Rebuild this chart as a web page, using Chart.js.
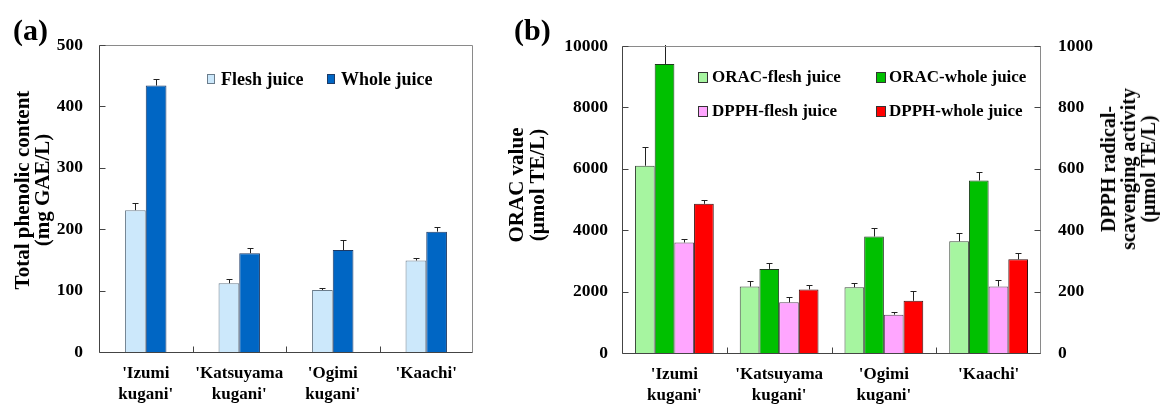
<!DOCTYPE html>
<html lang="en">
<head>
<meta charset="UTF-8">
<title>Phenolic content and antioxidant activity of kugani juices</title>
<script src="https://cdn.jsdelivr.net/npm/chart.js@4.4.0/dist/chart.umd.min.js"></script>
<style>
  body { margin: 0; background: #fff; }
  #wrap { position: relative; width: 1161px; height: 408px; overflow: hidden;
          font-family: 'Liberation Serif', 'Times New Roman', serif; font-weight: bold; color: #000; }
  .panel { position: absolute; top: 0; height: 408px; }
  .tag { position: absolute; font-size: 30px; line-height: 30px; }
  .ytitle { position: absolute; font-size: 21px; text-align: center; white-space: nowrap;
            transform: translate(-50%, -50%) rotate(-90deg); }
  .sq { position: absolute; box-sizing: border-box; border: 1px solid #333; }
  .lt { position: absolute; white-space: nowrap; line-height: 22px; }
</style>
</head>
<body>
<div id="wrap">
  <div class="panel" id="pa" style="left:0;width:490px"><canvas id="chartA"></canvas></div>
  <div class="panel" id="pb" style="left:490px;width:671px"><canvas id="chartB"></canvas></div>

  <div class="tag" style="left:13px;top:15px">(a)</div>
  <div class="tag" style="left:514px;top:15px">(b)</div>

  <div class="ytitle" style="left:32px;top:190px;line-height:20px">Total phenolic content<br>(mg GAE/L)</div>
  <div class="ytitle" style="left:527px;top:185px;line-height:21px">ORAC value<br>(µmol TE/L)</div>
  <div class="ytitle" style="left:1128px;top:169px;line-height:20px;font-size:20px">DPPH radical-<br>scavenging activity<br>(µmol TE/L)</div>

  <!-- legend (a) -->
  <div class="sq" style="left:207px;top:74px;width:8px;height:10px;background:#cce8fb;border-color:#6b7d8c"></div>
  <div class="lt" style="left:221px;top:68px;font-size:18px">Flesh juice</div>
  <div class="sq" style="left:327px;top:74px;width:8px;height:10px;background:#0066c4;border-color:#1d3a66"></div>
  <div class="lt" style="left:341px;top:68px;font-size:18px">Whole juice</div>

  <!-- legend (b) -->
  <div class="sq" style="left:698px;top:72px;width:10px;height:11px;background:#a6f5a0"></div>
  <div class="lt" style="left:712px;top:66px;font-size:17px">ORAC-flesh juice</div>
  <div class="sq" style="left:876px;top:72px;width:10px;height:11px;background:#00c000"></div>
  <div class="lt" style="left:889px;top:66px;font-size:17px">ORAC-whole juice</div>
  <div class="sq" style="left:698px;top:106px;width:10px;height:11px;background:#ffa6ff"></div>
  <div class="lt" style="left:712px;top:100px;font-size:17px">DPPH-flesh juice</div>
  <div class="sq" style="left:876px;top:106px;width:10px;height:11px;background:#ff0000"></div>
  <div class="lt" style="left:889px;top:100px;font-size:17px">DPPH-whole juice</div>
</div>

<script>
// cultivars
const cultivars = [["'Izumi", "kugani'"], ["'Katsuyama", "kugani'"], ["'Ogimi", "kugani'"], ["'Kaachi'"]];

// (a) total phenolic content, mg GAE/L
const phenolFlesh   = [231, 112, 101, 149];
const phenolFleshSd = [12, 7, 3, 4];
const phenolWhole   = [434, 161, 166, 196];
const phenolWholeSd = [11, 9, 17, 7];

// (b) ORAC, umol TE/L (left axis)
const oracFlesh   = [6100, 2165, 2142, 3640];
const oracFleshSd = [600, 183, 153, 253];
const oracWhole   = [9414, 2740, 3795, 5620];
const oracWholeSd = [800, 185, 282, 261];

// (b) DPPH, umol TE/L (right axis)
const dpphFlesh   = [360, 165, 125, 217];
const dpphFleshSd = [12, 17, 10, 20];
const dpphWhole   = [486, 207, 170, 305];
const dpphWholeSd = [11, 15, 33, 21];

const axisTicksA = { min: 0, max: 500, step: 100 };
const axisTicksB = { min: 0, max: 10000, step: 2000 };
const axisTicksB2 = { min: 0, max: 1000, step: 200 };

const serif = "'Liberation Serif', 'Times New Roman', serif";

// error bars, inward tick marks and the plot frame
const framePlugin = {
  id: 'frame',
  afterDatasetsDraw(chart) {
    const ctx = chart.ctx, area = chart.chartArea;
    ctx.save();
    ctx.beginPath();
    ctx.rect(area.left, area.top - 1, area.right - area.left, area.bottom - area.top + 1);
    ctx.clip();
    ctx.strokeStyle = '#222';
    ctx.lineWidth = 1;
    chart.data.datasets.forEach((ds, i) => {
      const meta = chart.getDatasetMeta(i);
      const scale = chart.scales[meta.yAxisID];
      meta.data.forEach((bar, j) => {
        const x = Math.round(bar.x) + 0.5;
        const yTop = Math.round(scale.getPixelForValue(ds.data[j] + ds.sd[j])) + 0.5;
        ctx.beginPath();
        ctx.moveTo(x, bar.y);
        ctx.lineTo(x, yTop);
        ctx.moveTo(x - 3, yTop);
        ctx.lineTo(x + 3, yTop);
        ctx.stroke();
      });
    });
    ctx.restore();
  },
  afterDraw(chart) {
    const ctx = chart.ctx, a = chart.chartArea;
    const L = Math.round(a.left) + 0.5, R = Math.round(a.right) - 0.5;
    const T = Math.round(a.top) + 0.5, B = Math.round(a.bottom) + 0.5;
    ctx.save();
    ctx.lineWidth = 1;
    ctx.strokeStyle = '#8a8a8a';
    ctx.beginPath();
    ctx.moveTo(L, T); ctx.lineTo(R, T); ctx.lineTo(R, B);
    ctx.stroke();
    ctx.strokeStyle = '#444';
    ctx.beginPath();
    ctx.moveTo(L, T); ctx.lineTo(L, B); ctx.lineTo(R, B);
    ctx.stroke();

    ctx.beginPath();
    const y = chart.scales.y;
    y.ticks.forEach(t => {
      const py = Math.round(y.getPixelForValue(t.value)) + 0.5;
      ctx.moveTo(L, py); ctx.lineTo(L + 6, py);
    });
    if (chart.scales.y2) {
      const y2 = chart.scales.y2;
      y2.ticks.forEach(t => {
        const py = Math.round(y2.getPixelForValue(t.value)) + 0.5;
        ctx.moveTo(R, py); ctx.lineTo(R - 6, py);
      });
    }
    const x = chart.scales.x;
    for (let i = 1; i < chart.data.labels.length; i++) {
      const px = Math.round((x.getPixelForValue(i - 1) + x.getPixelForValue(i)) / 2) + 0.5;
      ctx.moveTo(px, B); ctx.lineTo(px, B - 6);
    }
    ctx.stroke();
    ctx.restore();
  }
};

function xAxis(height) {
  return {
    type: 'category',
    offset: true,
    grid: { display: false, drawTicks: false },
    border: { display: false },
    ticks: { color: '#000', font: { family: serif, size: 17, weight: 'bold', lineHeight: 1.22 },
             padding: 11, maxRotation: 0, autoSkip: false },
    afterFit: s => { s.height = height; }
  };
}

function yAxis(t, width, pad, position) {
  return {
    type: 'linear',
    position: position,
    min: t.min, max: t.max,
    grid: { display: false, drawTicks: false },
    border: { display: false },
    ticks: { stepSize: t.step, color: '#000', padding: pad,
             font: { family: serif, size: 17.5, weight: 'bold' },
             callback: v => String(v) },
    afterFit: s => { s.width = width; }
  };
}

function bars(label, data, sd, fill, border, axis) {
  return { label, data, sd, backgroundColor: fill, borderColor: border, borderWidth: 1, yAxisID: axis };
}

new Chart(document.getElementById('chartA'), {
  type: 'bar',
  data: {
    labels: cultivars,
    datasets: [
      bars('Flesh juice', phenolFlesh, phenolFleshSd, '#cce8fb', '#6b7d8c', 'y'),
      bars('Whole juice', phenolWhole, phenolWholeSd, '#0066c4', '#1d3a66', 'y')
    ]
  },
  options: {
    responsive: true,
    maintainAspectRatio: false,
    animation: false,
    categoryPercentage: 0.443,
    barPercentage: 1,
    layout: { padding: { top: 45, right: 17, left: 0, bottom: 0 } },
    plugins: { legend: { display: false }, tooltip: { enabled: false } },
    scales: { x: xAxis(56), y: yAxis(axisTicksA, 99, 16, 'left') }
  },
  plugins: [framePlugin]
});

new Chart(document.getElementById('chartB'), {
  type: 'bar',
  data: {
    labels: cultivars,
    datasets: [
      bars('ORAC-flesh juice', oracFlesh, oracFleshSd, '#a6f5a0', '#3d4a3d', 'y'),
      bars('ORAC-whole juice', oracWhole, oracWholeSd, '#00c000', '#1f3a1f', 'y'),
      bars('DPPH-flesh juice', dpphFlesh, dpphFleshSd, '#ffa6ff', '#5a4a5a', 'y2'),
      bars('DPPH-whole juice', dpphWhole, dpphWholeSd, '#ff0000', '#3a1010', 'y2')
    ]
  },
  options: {
    responsive: true,
    maintainAspectRatio: false,
    animation: false,
    categoryPercentage: 0.752,
    barPercentage: 1,
    layout: { padding: { top: 46, right: 0, left: 0, bottom: 0 } },
    plugins: { legend: { display: false }, tooltip: { enabled: false } },
    scales: {
      x: xAxis(55),
      y: yAxis(axisTicksB, 132, 14, 'left'),
      y2: yAxis(axisTicksB2, 120, 17, 'right')
    }
  },
  plugins: [framePlugin]
});
</script>
</body>
</html>
